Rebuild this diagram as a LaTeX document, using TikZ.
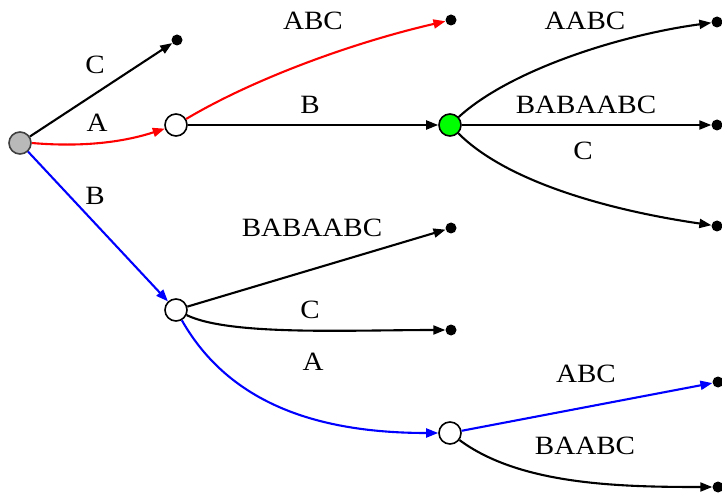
\documentclass[tikz,border=0pt]{standalone}
\usepackage{fontspec}
\setmainfont{Liberation Serif}
\newfontfamily\lblfont[FakeStretch=1.1]{Liberation Serif}
\usetikzlibrary{arrows.meta}
\begin{document}
\begin{tikzpicture}[x=1bp,y=-1bp,
  inner/.style={circle,draw=black,line width=1.6bp,fill=white,minimum size=22bp,inner sep=0pt},
  rootnode/.style={inner,fill=gray!55,draw=black!75},
  goal/.style={inner,fill=green},
  leaf/.style={circle,fill=black,minimum size=11bp,inner sep=0pt},
  edge/.style={line width=2.1bp,-{Triangle[length=12bp,width=9bp]}},
  lbl/.style={font=\lblfont\fontsize{26.5}{28}\selectfont,inner sep=0pt}]
\useasboundingbox (0,0) rectangle (722,493);
% nodes
\node[rootnode] (r) at (20,143) {};
\node[leaf] (lc) at (177,40) {};
\node[inner] (na) at (176,125) {};
\node[inner] (nb) at (176,310) {};
\node[leaf] (labc) at (451,20) {};
\node[goal] (ng) at (450,125) {};
\node[leaf] (g1) at (717,22) {};
\node[leaf] (g2) at (717,125) {};
\node[leaf] (g3) at (717,226) {};
\node[leaf] (b1) at (451,228) {};
\node[leaf] (b2) at (451,330) {};
\node[inner] (nl) at (450,433) {};
\node[leaf] (l1) at (718,382) {};
\node[leaf] (l2) at (718,487) {};
% edges
\draw[edge] (r) -- (lc);
\draw[edge,red] (r.east) .. controls (90,148) and (130,140) .. (na);
\draw[edge,blue] (r) -- (nb);
\draw[edge,red] (na) .. controls (255,78) and (355,42) .. (labc);
\draw[edge] (na) -- (ng);
\draw[edge] (ng) .. controls (510,70) and (620,35) .. (g1);
\draw[edge] (ng) -- (g2);
\draw[edge] (ng) .. controls (510,185) and (620,212) .. (g3);
\draw[edge] (nb) -- (b1);
\draw[edge] (nb) .. controls (230,336) and (350,330) .. (b2);
\draw[edge,blue] (nb) .. controls (230,405) and (320,433) .. (nl);
\draw[edge,blue] (nl) -- (l1);
\draw[edge] (nl) .. controls (520,485) and (620,487) .. (l2);
% labels
\node[lbl] (t1) at (95,65) {C};
\node[lbl] (t2) at (97,123) {A};
\node[lbl] (t3) at (95,196) {B};
\node[lbl] (t4) at (313,21) {ABC};
\node[lbl] (t5) at (310,105) {B};
\node[lbl] (t6) at (585,21) {AABC};
\node[lbl] (t7) at (586,105) {BABAABC};
\node[lbl] (t8) at (583,151) {C};
\node[lbl] (t9) at (312,228) {BABAABC};
\node[lbl] (t10) at (310,310) {C};
\node[lbl] (t11) at (313,362) {A};
\node[lbl] (t12) at (586,374) {ABC};
\node[lbl] (t13) at (585,446) {BAABC};
\end{tikzpicture}
\end{document}
